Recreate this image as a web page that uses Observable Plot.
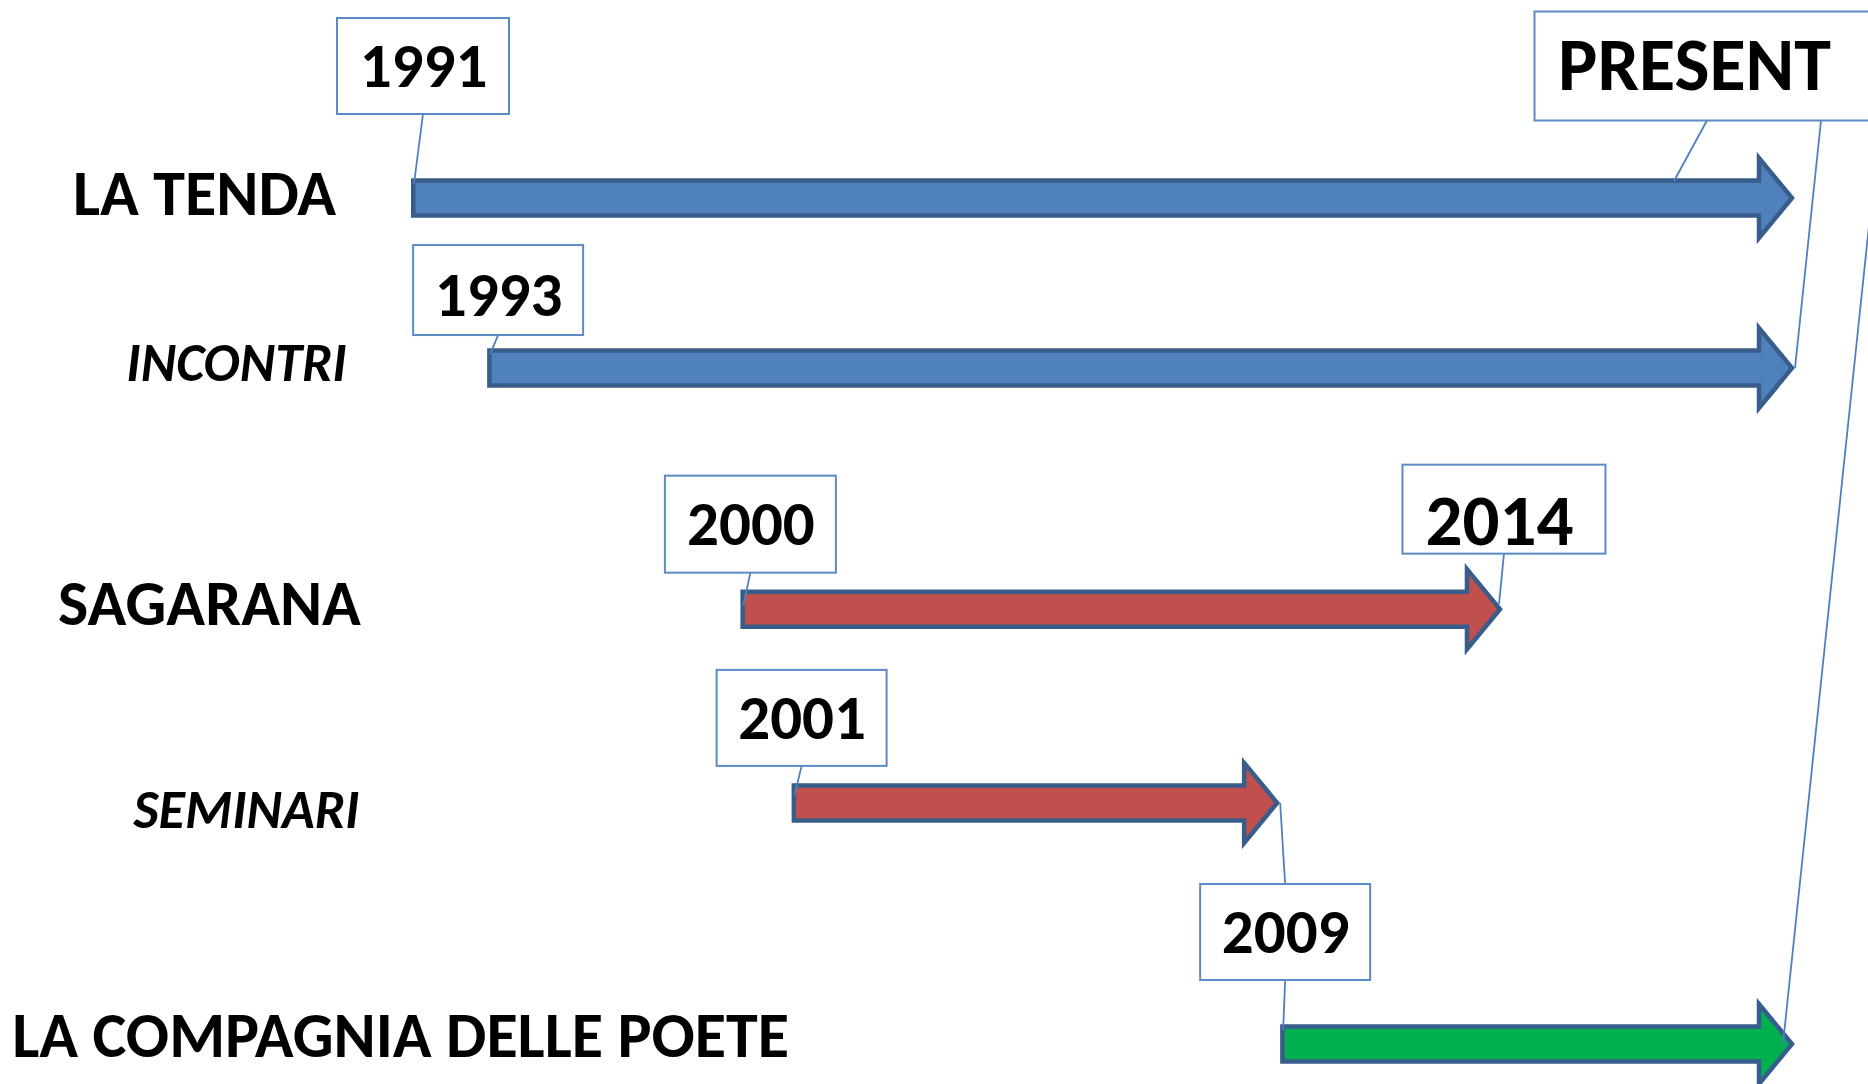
<!DOCTYPE html>
<html>
<head>
<meta charset="utf-8">
<script src="https://cdn.jsdelivr.net/npm/d3@7"></script>
<script src="https://cdn.jsdelivr.net/npm/@observablehq/plot@0.6"></script>
<style>
  html, body { margin: 0; padding: 0; background: #ffffff; }
  #chart { width: 1868px; height: 1084px; overflow: hidden; }
</style>
</head>
<body>
<div id="chart"></div>
<script>
// ---------------- DATA ----------------
const activities = ["LA TENDA", "INCONTRI", "SAGARANA", "SEMINARI", "LA COMPAGNIA DELLE POETE"];
const startYears = [1991, 1993, 2000, 2001, 2009];
const endYears   = ["PRESENT", "PRESENT", 2014, 2009, "PRESENT"];

const calloutLabels = ["1991", "1993", "2000", "2001", "2014", "2009", "PRESENT"];
const calloutYears  = [1991, 1993, 2000, 2001, 2014, 2009, "PRESENT"];
const calloutRows   = ["LA TENDA", "INCONTRI", "SAGARANA", "SEMINARI", "SAGARANA", "LA COMPAGNIA DELLE POETE", "LA TENDA"];

const milestoneYears = [1991, 1993, 2000, 2001, 2009, 2014, "PRESENT"];
const PRESENT_YEAR = 2016;

// ---------------- derived tables ----------------
const yearValue = v => v === "PRESENT" ? PRESENT_YEAR : v;
const rowsData = activities.map((name, i) => ({name, row: i, start: startYears[i], end: yearValue(endYears[i])}));
const callouts = calloutLabels.map((label, i) => ({label, year: yearValue(calloutYears[i]), row: activities.indexOf(calloutRows[i])}));

// ---------------- layout: the diagram's hand-drawn (non-uniform) time axis and row spacing ----------------
const timelineFraction = [0, 0.055, 0.238, 0.275, 0.628, 0.789, 1];   // where each milestone sits along the drawn axis
const rowFraction = [0, 0.201, 0.486, 0.715, 1];                         // where each row sits vertically
const warpX = d3.scaleLinear().domain(milestoneYears.map(yearValue)).range(timelineFraction);
const warpY = d3.scaleLinear().domain([0, 1, 2, 3, 4]).range(rowFraction);

// ---------------- styles ----------------
const FONT = "Carlito, Lato, 'Open Sans', sans-serif";
const WEIGHT = "bold";
const OUTLINE = "#385D8A";
const arrowFill = {
  "LA TENDA": "#4F81BD", "INCONTRI": "#4F81BD",
  "SAGARANA": "#C0504D", "SEMINARI": "#C0504D",
  "LA COMPAGNIA DELLE POETE": "#00B050"
};
const rowLabelLayout = {
  "LA TENDA":                 {cx: 204, dy: -4, size: 64, italic: false},
  "INCONTRI":                 {cx: 236, dy: -5, size: 54, italic: true},
  "SAGARANA":                 {cx: 209, dy: -5, size: 64, italic: false},
  "SEMINARI":                 {cx: 246, dy: 7,  size: 54, italic: true},
  "LA COMPAGNIA DELLE POETE": {cx: 400, dy: -8, size: 64, italic: false}
};
const calloutLayout = {
  "1991":    {dx: 12,  dy: -132, w: 172, h: 96,  size: 63, tdx: 0,   tdy: 0},
  "1993":    {dx: 11,  dy: -78,  w: 170, h: 90,  size: 63, tdx: 0,   tdy: 5},
  "2000":    {dx: 10,  dy: -85,  w: 171, h: 97,  size: 63, tdx: 0,   tdy: 0},
  "2001":    {dx: 10,  dy: -85,  w: 170, h: 96,  size: 63, tdx: 0,   tdy: 0},
  "2014":    {dx: 1,   dy: -100, w: 203, h: 89,  size: 73, tdx: -5,  tdy: 12},
  "2009":    {dx: 5,   dy: -112, w: 170, h: 96,  size: 63, tdx: 0,   tdy: 0},
  "PRESENT": {dx: -88, dy: -132, w: 345, h: 109, size: 74, tdx: -13, tdy: 0}
};
// pointer lines of the callouts: which arrow point they reach
const pointers = [
  {label: "1991",    row: 0, at: "start", sdx: 0,   tdx: 3,    tdy: -14},
  {label: "1993",    row: 1, at: "start", sdx: 0,   tdx: 3,    tdy: -14},
  {label: "2000",    row: 2, at: "start", sdx: 0,   tdx: 3,    tdy: -4},
  {label: "2001",    row: 3, at: "start", sdx: 0,   tdx: 3,    tdy: -8},
  {label: "2014",    row: 2, at: "end",   sdx: 0,   tdx: -4,   tdy: -5},
  {label: "2009",    row: 3, at: "end",   sdx: 0,   tdx: 0,    tdy: 0},
  {label: "2009",    row: 4, at: "start", sdx: 0,   tdx: 3,    tdy: -14},
  {label: "PRESENT", row: 0, at: "end",   sdx: 0,   tdx: -121, tdy: -17},
  {label: "PRESENT", row: 1, at: "end",   sdx: 114, tdx: 0,    tdy: 0},
  {label: "PRESENT", row: 4, at: "end",   sdx: 173, tdx: -12,  tdy: 0}
];

// ---------------- marks ----------------
const marks = [];

// block arrows drawn through the x / y scales
marks.push((index, scales) => {
  const X = v => scales.x(warpX(v)), Y = v => scales.y(warpY(v));
  const g = d3.create("svg:g");
  const sw = 4.5, s = 17.5, h = 40, tipInset = 3, headLen = 36;
  for (const d of rowsData) {
    const xs = X(d.start) + sw / 2, xt = X(d.end) - tipInset, yc = Y(d.row);
    const xb = X(d.end) - headLen;
    const p = d3.path();
    p.moveTo(xs, yc - s);
    p.lineTo(xb, yc - s);
    p.lineTo(xb, yc - h);
    p.lineTo(xt, yc);
    p.lineTo(xb, yc + h);
    p.lineTo(xb, yc + s);
    p.lineTo(xs, yc + s);
    p.closePath();
    g.append("path")
      .attr("d", p.toString())
      .attr("fill", arrowFill[d.name])
      .attr("stroke", OUTLINE)
      .attr("stroke-width", sw)
      .attr("stroke-linejoin", "miter")
      .attr("stroke-miterlimit", 10);
  }
  return g.node();
});

// callout pointer lines
marks.push((index, scales) => {
  const X = v => scales.x(warpX(v)), Y = v => scales.y(warpY(v));
  const g = d3.create("svg:g")
    .attr("fill", "none").attr("stroke", "#4F81BD").attr("stroke-width", 1.8);
  for (const p of pointers) {
    const c = callouts.find(c => c.label === p.label);
    const L = calloutLayout[p.label];
    const bx = X(c.year) + L.dx, by = Y(c.row) + L.dy;
    const r = rowsData[p.row];
    const tx = (p.at === "start" ? X(r.start) : X(r.end)) + p.tdx;
    const ty = Y(r.row) + p.tdy;
    const sy = ty < by ? by - L.h / 2 : by + L.h / 2;
    g.append("line")
      .attr("x1", bx + p.sdx).attr("y1", sy)
      .attr("x2", tx).attr("y2", ty);
  }
  return g.node();
});

// callout boxes and their labels
for (const c of callouts) {
  const L = calloutLayout[c.label];
  marks.push(Plot.rect([c], {
    x1: "year", x2: "year", y1: "row", y2: "row",
    insetLeft: -L.w / 2, insetRight: -L.w / 2, insetTop: -L.h / 2, insetBottom: -L.h / 2,
    dx: L.dx, dy: L.dy,
    fill: "white", stroke: "#5B8AC6", strokeWidth: 2
  }));
  marks.push(Plot.text([c], {
    x: "year", y: "row", text: "label",
    dx: L.dx + L.tdx, dy: L.dy + L.tdy,
    fontSize: L.size, fontWeight: WEIGHT, fontFamily: FONT, fill: "black"
  }));
}

// row labels
for (const r of rowsData) {
  const S = rowLabelLayout[r.name];
  marks.push(Plot.text([r], {
    frameAnchor: "left", y: "row", text: "name",
    dx: S.cx, dy: S.dy, textAnchor: "middle",
    fontSize: S.size, fontWeight: WEIGHT, fontStyle: S.italic ? "italic" : "normal",
    fontFamily: FONT, fill: "black"
  }));
}

const chart = Plot.plot({
  width: 1868,
  height: 1084,
  margin: 0,
  style: {background: "white", overflow: "hidden"},
  x: {transform: warpX, domain: [0, 1], range: [411, 1795], axis: null},
  y: {transform: warpY, domain: [0, 1], range: [198, 1044], axis: null},
  marks
});
document.getElementById("chart").appendChild(chart);
</script>
</body>
</html>
